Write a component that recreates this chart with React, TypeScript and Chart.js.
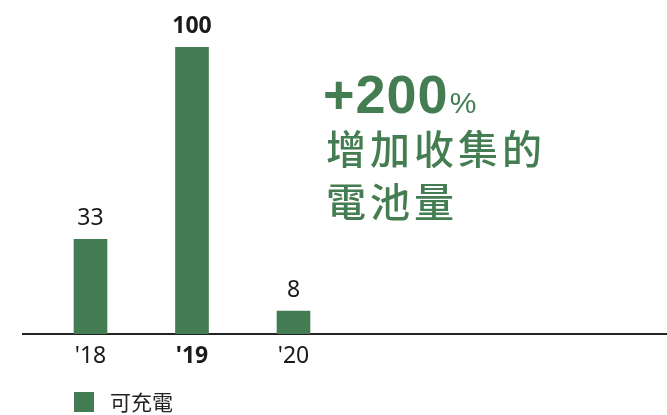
import React, { useEffect, useRef } from "react";
import { Chart, registerables } from "chart.js";

Chart.register(...registerables);

// ---- data ----
const years = ["'18", "'19", "'20"];
const positions = [0, 1, 2];
const batteries = [33, 100, 8];
const seriesLabel = "可充電";
const highlightIndex = 1;
const headline = "+200";
const headlineUnit = "%";
const captionLines = ["增加收集的", "電池量"];

// ---- styles ----
const GREEN = "#437b52";
const TEXT_GREEN = "#437d51";
const INK = "#1a1a1a";
const NUM_FONT = "'Noto Sans', 'Liberation Sans', sans-serif";
const HEAD_FONT = "'Liberation Sans', Arial, sans-serif";
const CJK_FONT = "'Noto Sans CJK TC', 'Noto Sans CJK SC', sans-serif";

const overlay = {
  id: "overlay",
  afterDatasetsDraw(chart: any) {
    const ctx = chart.ctx as CanvasRenderingContext2D;
    const meta = chart.getDatasetMeta(0);
    ctx.save();
    // value labels
    ctx.textAlign = "center";
    ctx.textBaseline = "alphabetic";
    ctx.fillStyle = INK;
    meta.data.forEach((bar: any, i: number) => {
      ctx.font = `${i === highlightIndex ? "bold " : ""}23px ${NUM_FONT}`;
      ctx.fillText(String(batteries[i]), bar.x, bar.y - 14);
    });
    // headline
    ctx.textAlign = "left";
    ctx.fillStyle = TEXT_GREEN;
    ctx.font = `bold 54px ${HEAD_FONT}`;
    (ctx as any).letterSpacing = "1px";
    ctx.fillText(headline, 323, 113);
    const w = ctx.measureText(headline).width;
    ctx.font = `30px ${HEAD_FONT}`;
    (ctx as any).letterSpacing = "0px";
    ctx.fillText(headlineUnit, 323 + w + 1, 113);
    // caption
    ctx.font = `500 40px ${CJK_FONT}`;
    (ctx as any).letterSpacing = "4px";
    captionLines.forEach((line, i) => {
      ctx.fillText(line, 326, 164 + i * 53);
    });
    (ctx as any).letterSpacing = "0px";
    // legend
    const ds = chart.data.datasets[0];
    ctx.fillStyle = ds.backgroundColor;
    ctx.fillRect(74, 392, 20, 20);
    ctx.font = `21px ${CJK_FONT}`;
    ctx.textBaseline = "middle";
    ctx.fillStyle = "#222";
    ctx.fillText(ds.label, 110, 402);
    ctx.restore();
  },
};

export default function App() {
  const ref = useRef<HTMLCanvasElement | null>(null);

  useEffect(() => {
    if (!ref.current) return;
    const chart = new Chart(ref.current, {
      type: "bar",
      data: {
        datasets: [
          {
            label: seriesLabel,
            data: positions.map((x, i) => ({ x, y: batteries[i] })) as any,
            backgroundColor: GREEN,
            barThickness: 33,
          },
        ],
      },
      options: {
        animation: false,
        responsive: false,
        maintainAspectRatio: false,
        layout: { padding: { top: 47, left: 23, right: 0, bottom: 37 } },
        plugins: { legend: { display: false }, tooltip: { enabled: false } },
        scales: {
          x: {
            type: "linear",
            offset: false,
            min: -0.665,
            max: 5.68,
            grid: { display: false, drawTicks: false, offset: false },
            border: { display: true, color: "#222", width: 2 },
            afterBuildTicks: (s: any) => {
              s.ticks = positions.map((v) => ({ value: v }));
            },
            afterFit: (s: any) => {
              s.height = 44;
            },
            ticks: {
              padding: 9,
              color: INK,
              autoSkip: false,
              maxRotation: 0,
              font: (c: any) => ({
                family: NUM_FONT,
                size: 23,
                weight: c.index === highlightIndex ? "bold" : "normal",
              }),
              callback: (_v: any, i: number) => years[i],
            },
          },
          y: { display: false, min: 0, max: 100 },
        },
      } as any,
      plugins: [overlay],
    });
    return () => chart.destroy();
  }, []);

  return (
    <div style={{ position: "absolute", left: 0, top: 0, width: 667, height: 415 }}>
      <canvas ref={ref} width={667} height={415} style={{ display: "block", width: 667, height: 415 }} />
    </div>
  );
}
